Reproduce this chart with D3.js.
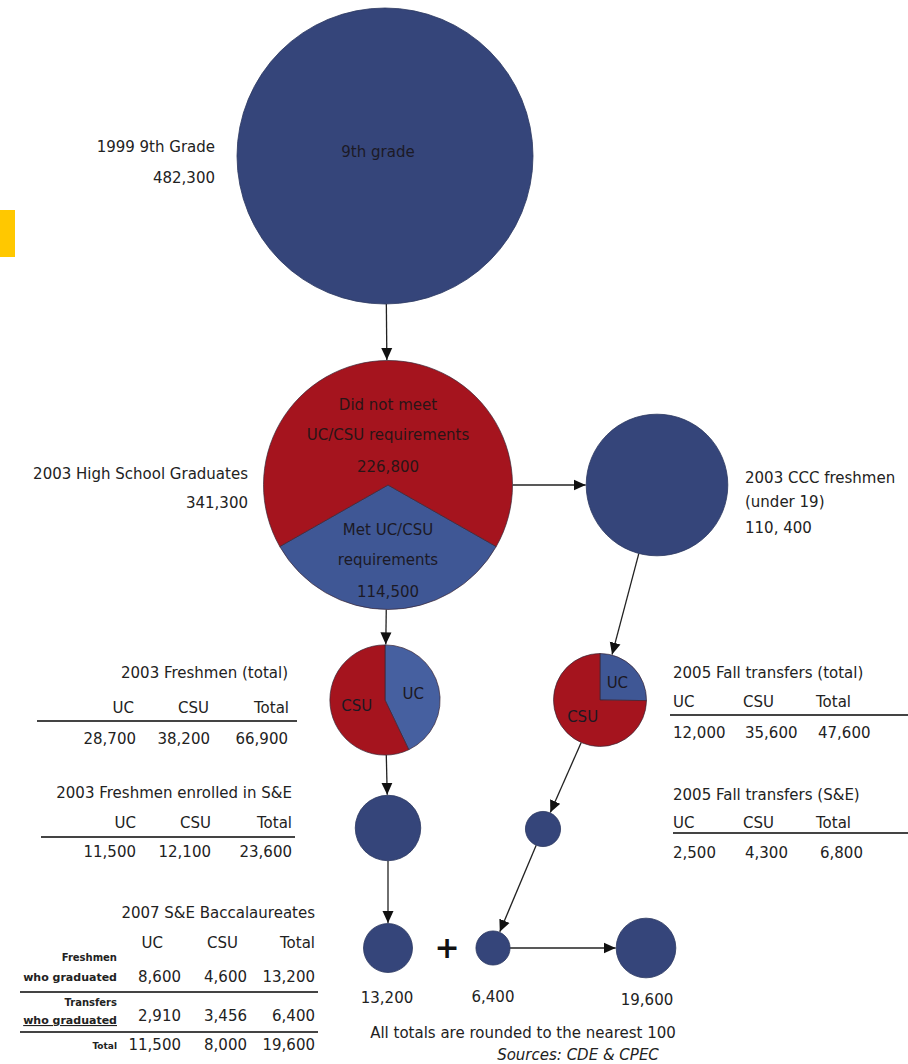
<!DOCTYPE html>
<html>
<head>
<meta charset="utf-8">
<script src="https://cdn.jsdelivr.net/npm/d3@7"></script>
<style>
  body { margin: 0; background: #fff; }
  svg { display: block; font-family: 'DejaVu Sans', sans-serif; }
</style>
</head>
<body>
<svg id="chart" width="908" height="1064"></svg>
<script>
// stages drawn as single circles (area ~ value)
const circleStages = ['9th grade', 'CCC freshmen', 'Freshmen S&E', 'Transfers S&E', 'Freshmen grads', 'Transfer grads', 'Baccalaureates']
const circleValues = [482300, 110400, 23600, 6800, 13200, 6400, 19600]

// split circles
const hsCategories = ['Met UC/CSU requirements', 'Did not meet UC/CSU requirements']
const hsValues = [114500, 226800]
const hsTotal = 341300
const systems = ['UC', 'CSU']
const freshmenValues = [28700, 38200]
const transferValues = [12000, 35600]

// tables
const tableColumns = ['UC', 'CSU', 'Total']
const freshmenTotalRow = [28700, 38200, 66900]
const freshmenSERow = [11500, 12100, 23600]
const transferTotalRow = [12000, 35600, 47600]
const transferSERow = [2500, 4300, 6800]
const baccRowLabels = [['Freshmen', 'who graduated'], ['Transfers', 'who graduated'], ['Total']]
const baccRows = [[8600, 4600, 13200], [2910, 3456, 6400], [11500, 8000, 19600]]

const navy = '#35457a'
const blue = '#3f5795'
const red = '#a5141e'
const ink = '#222'
const fmt = d3.format(',')

const svg = d3.select('#chart')

svg.append('defs').append('marker')
  .attr('id', 'arrow')
  .attr('viewBox', '0 -6 12 12')
  .attr('refX', 12)
  .attr('refY', 0)
  .attr('markerWidth', 12)
  .attr('markerHeight', 12)
  .attr('markerUnits', 'userSpaceOnUse')
  .attr('orient', 'auto')
  .append('path')
  .attr('d', 'M0,-5.5L12,0L0,5.5Z')
  .attr('fill', '#111')

const rScale = d3.scaleSqrt().domain([0, 482300]).range([0, 148])

// node layout
const pos = {
  '9th grade': [385, 156],
  'HS': [388, 485],
  'CCC freshmen': [657, 485],
  'Freshmen pie': [385, 700],
  'Transfer pie': [600, 700],
  'Freshmen S&E': [388, 828],
  'Transfers S&E': [543, 829],
  'Freshmen grads': [388, 948],
  'Transfer grads': [493, 948],
  'Baccalaureates': [646, 948]
}
const radius = {}
circleStages.forEach((s, i) => { radius[s] = rScale(circleValues[i]) })
radius['HS'] = rScale(hsTotal)
radius['Freshmen pie'] = rScale(d3.sum(freshmenValues))
radius['Transfer pie'] = rScale(d3.sum(transferValues))

// yellow tab
svg.append('rect').attr('x', 0).attr('y', 210).attr('width', 15).attr('height', 47).attr('fill', '#ffc800')

// arrows (behind circles)
const links = [
  ['9th grade', 'HS'], ['HS', 'CCC freshmen'], ['HS', 'Freshmen pie'],
  ['CCC freshmen', 'Transfer pie'], ['Freshmen pie', 'Freshmen S&E'],
  ['Transfer pie', 'Transfers S&E'], ['Freshmen S&E', 'Freshmen grads'],
  ['Transfers S&E', 'Transfer grads'], ['Transfer grads', 'Baccalaureates']
]
svg.append('g').selectAll('line').data(links).join('line')
  .each(function (d) {
    const [x1, y1] = pos[d[0]], [x2, y2] = pos[d[1]]
    const len = Math.hypot(x2 - x1, y2 - y1)
    const ux = (x2 - x1) / len, uy = (y2 - y1) / len
    d3.select(this)
      .attr('x1', x1 + ux * radius[d[0]]).attr('y1', y1 + uy * radius[d[0]])
      .attr('x2', x2 - ux * (radius[d[1]] + 0.5)).attr('y2', y2 - uy * (radius[d[1]] + 0.5))
  })
  .attr('stroke', '#222').attr('stroke-width', 1.3)
  .attr('marker-end', 'url(#arrow)')

// plain circles
svg.append('g').selectAll('circle').data(circleStages).join('circle')
  .attr('cx', d => pos[d][0]).attr('cy', d => pos[d][1])
  .attr('r', d => radius[d])
  .attr('fill', navy).attr('stroke', '#2b375f').attr('stroke-width', 0.8)

// pies
function drawPie(key, values, colors, startAngle, labels) {
  const r = radius[key]
  const [cx, cy] = pos[key]
  const arcs = d3.pie().sort(null).startAngle(startAngle).endAngle(startAngle + 2 * Math.PI)(values)
  const arc = d3.arc().innerRadius(0).outerRadius(r)
  const g = svg.append('g').attr('transform', `translate(${cx},${cy})`)
  g.selectAll('path').data(arcs).join('path')
    .attr('d', arc)
    .attr('fill', (d, i) => colors[i])
    .attr('stroke', '#3a2535').attr('stroke-width', 0.7)
  if (labels) {
    const lab = d3.arc().innerRadius(r * 0.05).outerRadius(r)
    g.selectAll('text').data(arcs).join('text')
      .attr('x', d => lab.centroid(d)[0]).attr('y', d => lab.centroid(d)[1] + 5)
      .attr('text-anchor', 'middle').attr('font-size', 15).attr('fill', '#1c1822')
      .text((d, i) => labels[i])
  }
  return g
}

const hsBlueAngle = 2 * Math.PI * hsValues[0] / d3.sum(hsValues)
drawPie('HS', hsValues, [blue, red], Math.PI - hsBlueAngle / 2)
drawPie('Freshmen pie', freshmenValues, ['#4660a0', red], 0, systems)
drawPie('Transfer pie', transferValues, [blue, red], 0, systems)

// text helpers
function txt(x, y, s, opts = {}) {
  return svg.append('text')
    .attr('x', x).attr('y', y)
    .attr('text-anchor', opts.anchor || 'start')
    .attr('font-size', opts.size || 15)
    .attr('font-weight', opts.weight || 'normal')
    .attr('font-style', opts.style || 'normal')
    .attr('fill', opts.fill || ink)
    .text(s)
}

// in-circle text
txt(378, 157, '9th grade', { anchor: 'middle', fill: '#1c1a26' })
const [hx] = pos['HS']
txt(hx, 410, 'Did not meet', { anchor: 'middle', fill: '#2a1416' })
txt(hx, 440, 'UC/CSU requirements', { anchor: 'middle', fill: '#2a1416' })
txt(hx, 472, fmt(hsValues[1]), { anchor: 'middle', fill: '#2a1416' })
txt(hx, 535, 'Met UC/CSU', { anchor: 'middle', fill: '#1c1a26' })
txt(hx, 565, 'requirements', { anchor: 'middle', fill: '#1c1a26' })
txt(hx, 597, fmt(hsValues[0]), { anchor: 'middle', fill: '#1c1a26' })

// side labels
txt(215, 152, '1999 9th Grade', { anchor: 'end' })
txt(215, 183, fmt(circleValues[0]), { anchor: 'end' })
txt(248, 479, '2003 High School Graduates', { anchor: 'end' })
txt(248, 508, fmt(hsTotal), { anchor: 'end' })
txt(745, 483, '2003 CCC freshmen')
txt(745, 507, '(under 19)')
txt(745, 533, '110, 400')

// tables
function drawTable(title, row, o) {
  txt(o.titleX, o.titleY, title, { anchor: o.anchor })
  tableColumns.forEach((c, i) => {
    txt(o.cols[i], o.headY, c, { anchor: o.anchor })
    txt(o.cols[i] + (o.valShift ? o.valShift[i] : 0), o.valY, fmt(row[i]), { anchor: o.anchor })
  })
  svg.append('line').attr('x1', o.lx1).attr('x2', o.lx2).attr('y1', o.ly).attr('y2', o.ly)
    .attr('stroke', '#444').attr('stroke-width', 2)
}

drawTable('2003 Freshmen (total)', freshmenTotalRow,
  { anchor: 'end', titleX: 288, titleY: 678, cols: [134, 209, 289], headY: 713, valY: 744, valShift: [2, 1, -1], lx1: 37, lx2: 297, ly: 721 })
drawTable('2003 Freshmen enrolled in S&E', freshmenSERow,
  { anchor: 'end', titleX: 292, titleY: 798, cols: [136, 211, 292], headY: 828, valY: 857, lx1: 41, lx2: 295, ly: 837 })
drawTable('2005 Fall transfers (total)', transferTotalRow,
  { anchor: 'start', titleX: 673, titleY: 678, cols: [673, 743, 816], headY: 707, valY: 738, valShift: [0, 2, 2], lx1: 670, lx2: 908, ly: 715 })
drawTable('2005 Fall transfers (S&E)', transferSERow,
  { anchor: 'start', titleX: 673, titleY: 800, cols: [673, 743, 816], headY: 828, valY: 858, valShift: [0, 2, 4], lx1: 673, lx2: 908, ly: 833 })

// baccalaureates table
txt(315, 918, '2007 S&E Baccalaureates', { anchor: 'end' })
const headX = [163, 238, 315]
const valX = [181, 247, 315]
tableColumns.forEach((c, i) => txt(headX[i], 948, c, { anchor: 'end' }))
const rowY = [982, 1021, 1050]
baccRows.forEach((row, r) => {
  row.forEach((v, i) => txt(valX[i], rowY[r], fmt(v), { anchor: 'end' }))
})
txt(117, 961, baccRowLabels[0][0], { anchor: 'end', size: 10, weight: 'bold' })
txt(117, 981, baccRowLabels[0][1], { anchor: 'end', size: 11, weight: 'bold' })
txt(117, 1006, baccRowLabels[1][0], { anchor: 'end', size: 10, weight: 'bold' })
txt(117, 1024, baccRowLabels[1][1], { anchor: 'end', size: 11, weight: 'bold' })
  .attr('text-decoration', 'underline')
txt(117, 1049, baccRowLabels[2][0], { anchor: 'end', size: 9, weight: 'bold' })
;[992, 1032].forEach(y => {
  svg.append('line').attr('x1', 20).attr('x2', 318).attr('y1', y).attr('y2', y)
    .attr('stroke', '#444').attr('stroke-width', 2)
})

// bottom sums
txt(447, 958, '+', { anchor: 'middle', size: 30, weight: 'bold', fill: '#111' })
txt(387, 1003, fmt(circleValues[4]), { anchor: 'middle' })
txt(493, 1002, fmt(circleValues[5]), { anchor: 'middle' })
txt(647, 1005, fmt(circleValues[6]), { anchor: 'middle' })
txt(523, 1038, 'All totals are rounded to the nearest 100', { anchor: 'middle' })
txt(578, 1060, 'Sources: CDE & CPEC', { anchor: 'middle', style: 'italic' })
</script>
</body>
</html>
